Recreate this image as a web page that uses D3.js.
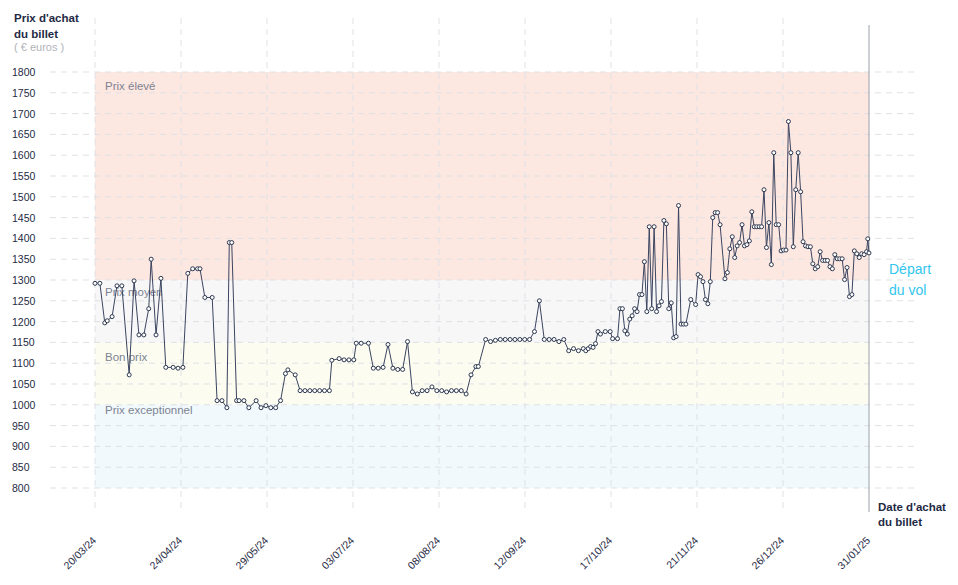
<!DOCTYPE html>
<html><head><meta charset="utf-8">
<script src="https://cdn.jsdelivr.net/npm/d3@7"></script>
<style>body{margin:0;background:#fff;font-family:"Liberation Sans",Arial,sans-serif}</style>
</head><body><svg id="c" width="958" height="585"></svg>
<script>
// jours depuis le 20/03/24
const jours = [0,2,4,5,7,9,11,14,16,18,20,22,23,25,27,29,32,34,36,38,40,42,43,45,48,50,52,54,55,56,58,59,61,63,66,68,70,72,74,76,
  78,79,82,84,86,88,90,92,94,96,97,100,102,104,106,107,109,112,114,116,118,120,122,124,126,128,130,132,134,136,138,140,142,144,146,148,150,152,154,156,157,
  160,162,164,166,168,170,172,174,176,178,180,182,184,186,188,190,192,194,196,198,200,201,202,203,204,205,206,207,209,211,212,214,215,216,217,218,219,220,221,222,223,224,225,226,227,228,229,230,231,232,233,234,235,236,237,238,239,
  240,241,242,
  244,246,247,248,249,250,251,252,253,254,255,256,258,259,260,261,262,263,264,265,266,267,268,269,270,271,272,273,274,275,276,277,278,279,280,281,282,283,284,285,286,287,288,289,290,291,292,293,294,295,296,297,298,299,300,301,302,303,304,305,306,307,308,309,310,311,312,313,314,315,316,316.5,317];
const prix = [1292,1292,1197,1202,1212,1286,1286,1072,1298,1168,1168,1231,1350,1168,1304,1090,1090,1088,1090,1316,1327,1327,1327,1258,1258,1010,1010,993,1390,1390,1010,1010,1010,993,1010,993,998,993,993,1010,
  1075,1084,1072,1034,1034,1034,1034,1034,1034,1034,1107,1111,1108,1108,1108,1148,1148,1148,1088,1088,1090,1145,1088,1085,1085,1152,1031,1026,1034,1034,1043,1034,1034,1031,1034,1034,1034,1026,1072,1092,1092,
  1157,1152,1155,1157,1157,1157,1157,1157,1157,1157,1176,1250,1157,1157,1157,1152,1157,1130,1135,1130,1135,1130,1135,1140,1138,1147,1176,1170,1176,1176,1159,1159,1231,1231,1178,1170,1206,1214,1231,1224,1265,1265,1344,1224,1428,1231,1428,1224,1238,1248,1443,1435,1231,1245,1161,1164,1479,
  1194,1194,1194,
  1253,1241,1313,1308,1296,1253,1243,1296,1450,1462,1462,1433,1303,1318,1375,1404,1354,1382,1390,1433,1382,1385,1394,1464,1428,1428,1428,1428,1517,1378,1438,1337,1606,1433,1433,1370,1372,1372,1681,1606,1380,1517,1606,1512,1392,1382,1380,1380,1339,1327,1332,1368,1347,1347,1347,1332,1327,1361,1351,1351,1351,1301,1330,1260,1265,1370,1363,1354,1363,1361,1368,1399,1365];
const dateLabels = ["20/03/24","24/04/24","29/05/24","03/07/24","08/08/24","12/09/24","17/10/24","21/11/24","26/12/24","31/01/25"];
const yTicks = d3.range(800, 1801, 50);
const zones = [
  {nom:"Prix élevé", de:1300, a:1800, col:"#fde7e1"},
  {nom:"Prix moyen", de:1150, a:1300, col:"#f7f7f8"},
  {nom:"Bon prix", de:1000, a:1150, col:"#fcfcf1"},
  {nom:"Prix exceptionnel", de:800, a:1000, col:"#f1f9fd"}
];
const labelDy = [18, 16, 19, 9];

const svg = d3.select("#c");
const x = d3.scaleLinear().domain([0, 317]).range([95, 869]);
const y = d3.scaleLinear().domain([800, 1800]).range([488, 72]);
const xt = d3.scalePoint().domain(dateLabels).range([95, 869]);

// zones
svg.selectAll("rect.zone").data(zones).enter().append("rect")
  .attr("class","zone")
  .attr("x", 95).attr("width", 774)
  .attr("y", d => y(d.a)).attr("height", d => y(d.de) - y(d.a))
  .attr("fill", d => d.col);

// grille
svg.selectAll("line.h").data(yTicks).enter().append("line")
  .attr("x1", 50).attr("x2", 918).attr("y1", d => y(d)).attr("y2", d => y(d))
  .attr("stroke", "#dfe1e5").attr("stroke-dasharray", "6,5");
svg.selectAll("line.v").data(dateLabels.slice(0, -1)).enter().append("line")
  .attr("x1", d => xt(d)).attr("x2", d => xt(d)).attr("y1", 18).attr("y2", 512)
  .attr("stroke", "#dfe1e5").attr("stroke-dasharray", "6,5");
svg.append("line").attr("x1", 869).attr("x2", 869).attr("y1", 25).attr("y2", 512)
  .attr("stroke", "#9aa0a8");

svg.selectAll("text.zone").data(zones).enter().append("text")
  .attr("x", 105).attr("y", (d, i) => y(d.a) + labelDy[i])
  .attr("font-size", 11.5).attr("fill", "#7d8391").text(d => d.nom);

// axe y
svg.selectAll("text.yt").data(yTicks).enter().append("text")
  .attr("x", 12).attr("y", d => y(d) + 4)
  .attr("font-size", 10.5).attr("fill", "#1f2a44").text(d => d);

// axe x
svg.selectAll("text.xt").data(dateLabels).enter().append("text")
  .attr("transform", d => `translate(${xt(d) + 2},${541}) rotate(-45)`)
  .attr("text-anchor", "end").attr("font-size", 10.5).attr("fill", "#1f2a44").text(d => d);

// titres
const t1 = svg.append("text").attr("font-size", 11.5).attr("font-weight", "bold").attr("fill", "#1f2a44");
t1.append("tspan").attr("x", 14).attr("y", 22).text("Prix d'achat");
t1.append("tspan").attr("x", 14).attr("y", 38).text("du billet");
svg.append("text").attr("x", 14).attr("y", 51).attr("font-size", 11).attr("fill", "#b0b3b8").text("( € euros )");
const t2 = svg.append("text").attr("font-size", 11.5).attr("font-weight", "bold").attr("fill", "#1f2a44");
t2.append("tspan").attr("x", 878).attr("y", 511).text("Date d'achat");
t2.append("tspan").attr("x", 878).attr("y", 526).text("du billet");
const t3 = svg.append("text").attr("font-size", 14).attr("fill", "#33c6ee");
t3.append("tspan").attr("x", 889).attr("y", 274).text("Départ");
t3.append("tspan").attr("x", 889).attr("y", 295).text("du vol");

// courbe
const pts = jours.map((j, i) => [j, prix[i]]);
svg.append("path").datum(pts)
  .attr("d", d3.line().x(d => x(d[0])).y(d => y(d[1])))
  .attr("fill", "none").attr("stroke", "#3b4560").attr("stroke-width", 1);
svg.selectAll("circle").data(pts).enter().append("circle")
  .attr("cx", d => x(d[0])).attr("cy", d => y(d[1])).attr("r", 2)
  .attr("fill", "#fff").attr("stroke", "#2d3850").attr("stroke-width", 1);
</script></body></html>
